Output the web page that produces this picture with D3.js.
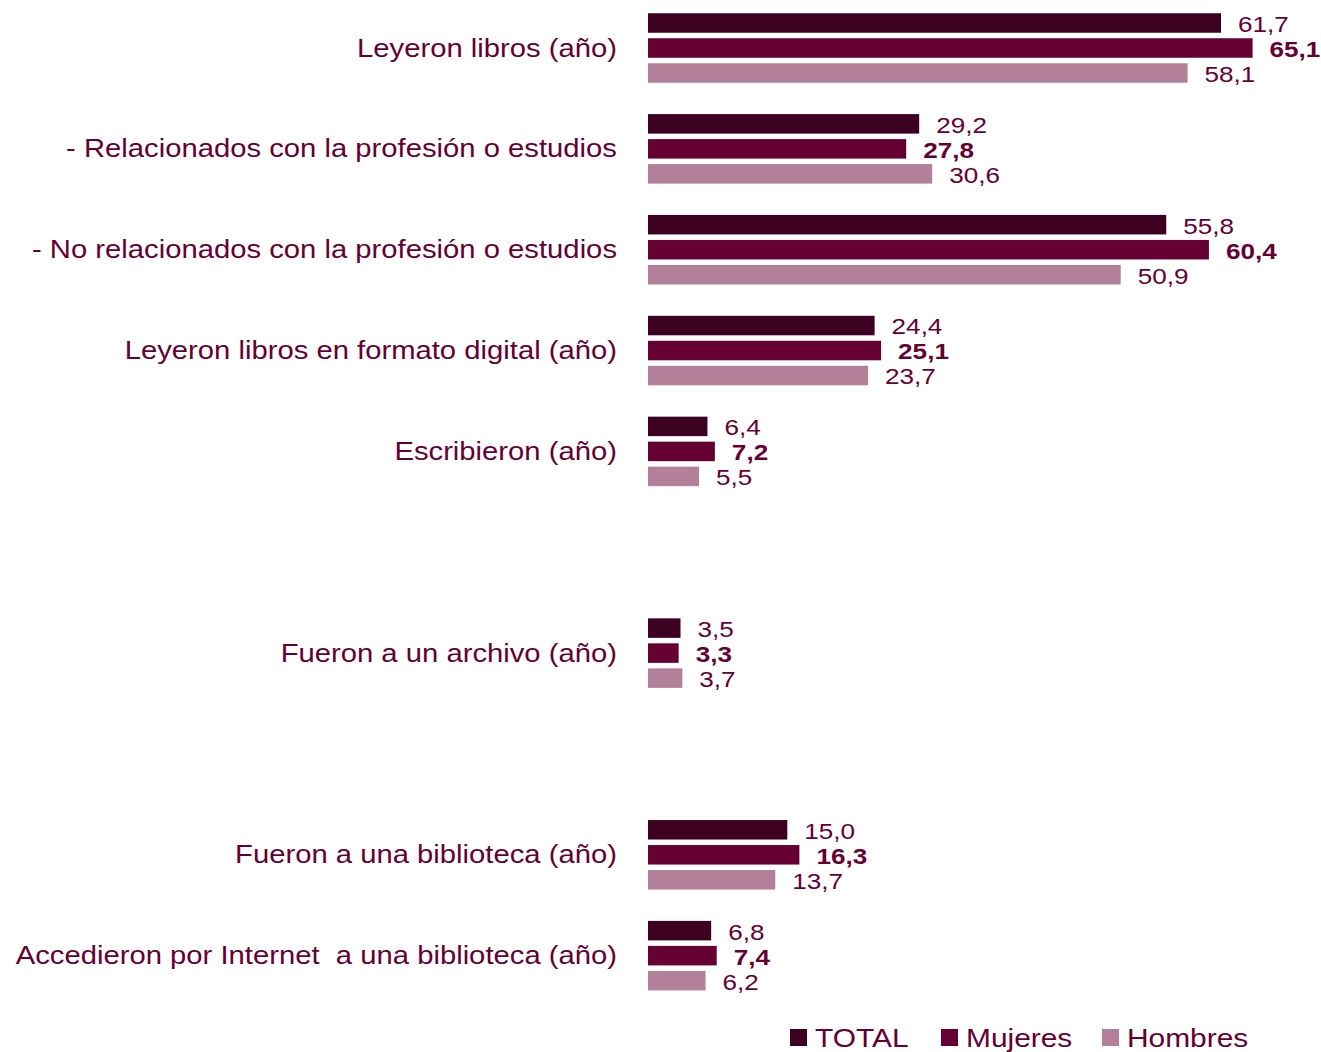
<!DOCTYPE html>
<html>
<head>
<meta charset="utf-8">
<script src="https://cdn.jsdelivr.net/npm/d3@7"></script>
<style>
  body { margin: 0; background: #fff; }
  text { font-family: "Liberation Sans", Arial, sans-serif; fill: #660033; white-space: pre; }
</style>
</head>
<body>
<div id="chart"></div>
<script>
// categories (empty strings are the blank rows of the original chart)
var categories = [
  "Leyeron libros (año)",
  "- Relacionados con la profesión o estudios",
  "- No relacionados con la profesión o estudios",
  "Leyeron libros en formato digital (año)",
  "Escribieron (año)",
  "",
  "Fueron a un archivo (año)",
  "",
  "Fueron a una biblioteca (año)",
  "Accedieron por Internet  a una biblioteca (año)"
];
var series = ["TOTAL", "Mujeres", "Hombres"];
var totalValues   = [61.7, 29.2, 55.8, 24.4, 6.4, null, 3.5, null, 15.0, 6.8];
var mujeresValues = [65.1, 27.8, 60.4, 25.1, 7.2, null, 3.3, null, 16.3, 7.4];
var hombresValues = [58.1, 30.6, 50.9, 23.7, 5.5, null, 3.7, null, 13.7, 6.2];
var colors = ["#3d0021", "#660033", "#b38099"];

var W = 1321, H = 1052;
// the original text is rendered a bit wider than the font
var stretch = 1.125;

var svg = d3.select("#chart").append("svg")
    .attr("width", W)
    .attr("height", H);

// scales
var y = d3.scaleBand()
    .domain(d3.range(categories.length))
    .range([-3, 1005.5]);

var ySub = d3.scaleBand()
    .domain(series)
    .range([13.5, 88.5])
    .paddingInner(0.22)
    .paddingOuter(0.11);

var x = d3.scaleLinear()
    .domain([0, 70])
    .range([648, 648 + 70 * 9.287]);

var allValues = [totalValues, mujeresValues, hombresValues];

// category labels
svg.selectAll(".cat")
    .data(categories)
  .enter().append("text")
    .attr("class", "cat")
    .attr("transform", function(d, i) {
      return "translate(617," + (y(i) + y.bandwidth() / 2) + ") scale(" + stretch + ",1)";
    })
    .attr("dy", "0.35em")
    .attr("text-anchor", "end")
    .style("font-size", "26px")
    .text(function(d) { return d; });

// bars + value labels per series
series.forEach(function(s, si) {
  var vals = allValues[si];
  var rows = vals.map(function(v, i) { return {i: i, v: v}; })
      .filter(function(d) { return d.v != null; });

  svg.selectAll(".bar-" + si)
      .data(rows)
    .enter().append("rect")
      .attr("class", "bar-" + si)
      .attr("x", x(0))
      .attr("y", function(d) { return y(d.i) + ySub(s); })
      .attr("width", function(d) { return x(d.v) - x(0); })
      .attr("height", ySub.bandwidth())
      .attr("fill", colors[si]);

  svg.selectAll(".val-" + si)
      .data(rows)
    .enter().append("text")
      .attr("class", "val-" + si)
      .attr("transform", function(d) {
        var tx = x(d.v) + 17;
        var ty = y(d.i) + ySub(s) + ySub.bandwidth() / 2 + 1;
        return "translate(" + tx + "," + ty + ") scale(1.16,1)";
      })
      .attr("dy", "0.35em")
      .style("font-size", "22.5px")
      .style("font-weight", si == 1 ? "700" : "400")
      .text(function(d) { return d3.format(".1f")(d.v).replace(".", ","); });
});

// legend
var legendX = [790, 941, 1102];
var legend = svg.selectAll(".legend")
    .data(series)
  .enter().append("g")
    .attr("class", "legend")
    .attr("transform", function(d, i) { return "translate(" + legendX[i] + ",1029)"; });

legend.append("rect")
    .attr("width", 17)
    .attr("height", 17)
    .attr("fill", function(d, i) { return colors[i]; });

legend.append("text")
    .attr("transform", "translate(25,8.5) scale(1.15,1)")
    .attr("dy", "0.36em")
    .style("font-size", "26px")
    .text(function(d) { return d; });
</script>
</body>
</html>
